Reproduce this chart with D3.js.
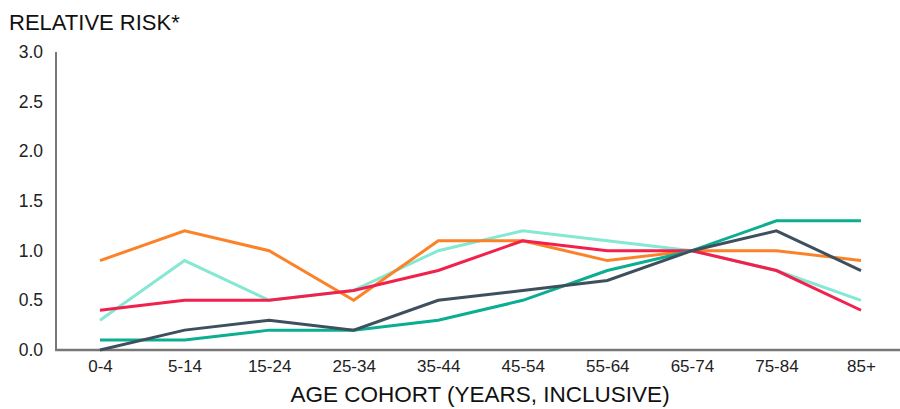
<!DOCTYPE html>
<html><head><meta charset="utf-8">
<script src="https://cdn.jsdelivr.net/npm/d3@7"></script>
<style>
body{margin:0;background:#fff;}
text{font-family:"Liberation Sans",Arial,sans-serif;}
</style></head>
<body><svg id="c" width="900" height="409"></svg>
<script>
const categories = ["0-4","5-14","15-24","25-34","35-44","45-54","55-64","65-74","75-84","85+"];
const yTicks = [0,0.5,1,1.5,2,2.5,3];
const seriesNames = ["lightTeal","orange","red","teal","slate"];
const seriesColors = ["#84e8d2","#fb8228","#f2204c","#0bae90","#3e4f5d"];
const lightTeal = [0.3,0.9,0.5,0.6,1.0,1.2,1.1,1.0,0.8,0.5];
const orange    = [0.9,1.2,1.0,0.5,1.1,1.1,0.9,1.0,1.0,0.9];
const red       = [0.4,0.5,0.5,0.6,0.8,1.1,1.0,1.0,0.8,0.4];
const teal      = [0.1,0.1,0.2,0.2,0.3,0.5,0.8,1.0,1.3,1.3];
const slate     = [0.0,0.2,0.3,0.2,0.5,0.6,0.7,1.0,1.2,0.8];
const seriesValues = [lightTeal,orange,red,teal,slate];

const svg = d3.select("#c");
const mLeft = 56, mRight = 900, mTop = 52, mBottom = 350;
const x = d3.scalePoint().domain(categories).range([100,861]);
const y = d3.scaleLinear().domain([0,3]).range([mBottom, mTop]);

// title
svg.append("text").attr("x",9).attr("y",30).attr("font-size",22)
  .attr("fill","#111").text("RELATIVE RISK*");

// y axis
const ya = svg.append("g").attr("transform",`translate(${mLeft},0)`)
  .call(d3.axisLeft(y).tickValues(yTicks).tickFormat(d3.format(".1f")).tickSize(0).tickPadding(13));
ya.select(".domain").attr("stroke","#777").attr("stroke-width",2).attr("d",`M0,${mTop}V${mBottom}`);
ya.selectAll("text").attr("font-size",17.5).attr("fill","#222");

// x axis
const xa = svg.append("g").attr("transform",`translate(0,${mBottom})`)
  .call(d3.axisBottom(x).tickSize(0).tickPadding(10));
xa.select(".domain").attr("stroke","#777").attr("stroke-width",2.5).attr("d",`M${mLeft-1},0H${mRight}`);
xa.selectAll("text").attr("font-size",17).attr("fill","#222");

svg.append("text").attr("x",480).attr("y",402).attr("text-anchor","middle").attr("font-size",22.5)
  .attr("fill","#111").text("AGE COHORT (YEARS, INCLUSIVE)");

const line = d3.line().x((d,i)=>x(categories[i])).y(d=>y(d));
seriesValues.forEach((vals,k)=>{
  svg.append("path").datum(vals).attr("d",line).attr("fill","none")
    .attr("stroke",seriesColors[k]).attr("stroke-width",3).attr("stroke-linejoin","miter");
});
</script></body></html>
